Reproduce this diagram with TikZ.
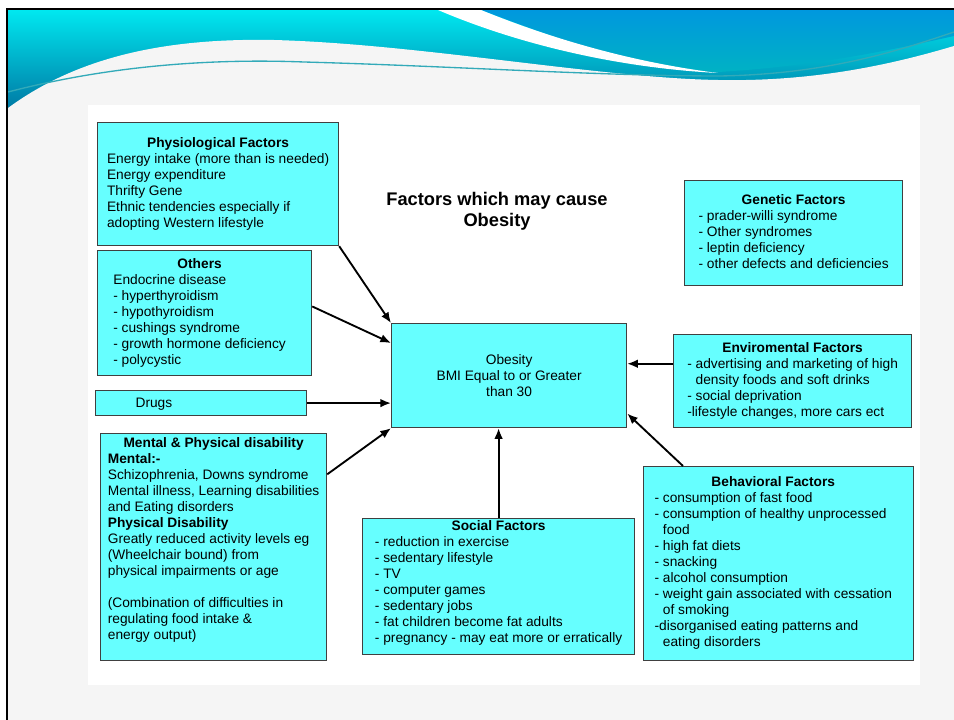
\documentclass[tikz,border=0pt]{standalone}
\usepackage{fontspec}
\setmainfont{Liberation Sans}
\usetikzlibrary{arrows.meta}

\definecolor{boxcyan}{RGB}{102,255,255}
\definecolor{bandcyan}{RGB}{0,232,240}
\definecolor{bandmid}{RGB}{0,210,232}
\definecolor{bandteal}{RGB}{0,118,162}
\definecolor{bandblue}{RGB}{0,152,222}
\definecolor{bandgreen}{RGB}{0,178,196}
\definecolor{waveline}{RGB}{50,170,185}
\definecolor{slidebg}{RGB}{245,245,245}

\newcommand{\factorlist}[3][0pt]{\begin{tabular}{@{}l@{\hspace{#1}}}\multicolumn{1}{@{}c@{\hspace{#1}}}{\bfseries #2}\\ #3\end{tabular}}

\begin{document}
\begin{tikzpicture}[x=0.75pt,y=-0.75pt,
  factor/.style={draw=black!75,line width=0.9pt,fill=boxcyan,anchor=north west,inner sep=0pt,font=\fontsize{10.3}{12}\selectfont},
  cause/.style={-{Latex[length=8pt,width=6.5pt]},line width=1.4pt}]

\useasboundingbox (0,0) rectangle (954,720);

% slide and banner
\fill[slidebg] (7,9) rectangle (954,720);
\begin{scope}
\clip (8,10) rectangle (954,720);
\shade[top color=bandcyan,middle color=bandmid,bottom color=bandteal] (8,10) rectangle (954,112);
\fill[slidebg] (8,112) -- (8,108) .. controls (80,55) and (170,38) .. (274,40) .. controls (420,44) and (600,78) .. (718,80) .. controls (820,82) and (900,62) .. (954,46) -- (954,112) -- cycle;
\shade[top color=bandblue,bottom color=bandgreen] (481,10) .. controls (560,40) and (640,68) .. (718,72) .. controls (820,66) and (900,48) .. (954,36) -- (954,10) -- cycle;
\fill[white] (438,10) .. controls (520,45) and (620,68) .. (718,73) .. controls (630,62) and (550,38) .. (481,10) -- cycle;
\draw[waveline,line width=1pt] (8,92) .. controls (100,68) and (200,58) .. (304,62) .. controls (450,66) and (600,76) .. (720,76) .. controls (830,74) and (900,50) .. (954,32);
\end{scope}
\draw[line width=1.6pt] (7,720) -- (7,9) -- (954,9);

\fill[white] (88,105) rectangle (920,685);

\node[font=\fontsize{13.7}{15.8}\selectfont\bfseries,align=center] (title) at (497,211) {Factors which may cause\\Obesity};

\node[factor,minimum width=176.25pt,minimum height=78pt,align=center] (obesity) at (391,323) {Obesity\\BMI Equal to or Greater\\than 30};

\node[factor,minimum width=180.75pt,minimum height=92.25pt] (phys) at (97,122) {\factorlist{Physiological Factors}{Energy intake (more than is needed)\\ Energy expenditure\\ Thrifty Gene\\ Ethnic tendencies especially if\\ adopting Western lifestyle}};

\node[factor,minimum width=160.5pt,minimum height=93.75pt] (others) at (97,250) {\factorlist[7.5pt]{Others}{Endocrine disease\\ - hyperthyroidism\\ - hypothyroidism\\ - cushings syndrome\\ - growth hormone deficiency\\ - polycystic}};

\node[factor,minimum height=18.75pt,text width=98.25pt,inner xsep=30pt,text depth=1pt,align=left] (drugs) at (95,390) {Drugs};

\node[factor,minimum width=169.5pt,minimum height=170.25pt] (mental) at (100,433) {\factorlist{Mental \& Physical disability}{\textbf{Mental:-}\\ Schizophrenia, Downs syndrome\\ Mental illness, Learning disabilities\\ and Eating disorders\\ \textbf{Physical Disability}\\ Greatly reduced activity levels eg\\ (Wheelchair bound) from\\ physical impairments or age\\ \\ (Combination of difficulties in\\ regulating food intake \&\\ energy output)\\[10.5pt]}};

\node[factor,minimum width=204pt,minimum height=102pt] (social) at (362,518) {\factorlist{Social Factors}{- reduction in exercise\\ - sedentary lifestyle\\ - TV\\ - computer games\\ - sedentary jobs\\ - fat children become fat adults\\ - pregnancy - may eat more or erratically\\[4.5pt]}};

\node[factor,minimum width=163.5pt,minimum height=78.75pt] (genetic) at (684,180) {\factorlist{Genetic Factors}{- prader-willi syndrome\\ - Other syndromes\\ - leptin deficiency\\ - other defects and deficiencies}};

\node[factor,minimum width=178.5pt,minimum height=69.75pt] (enviro) at (673,334) {\factorlist{Enviromental Factors}{- advertising and marketing of high\\ \phantom{- }density foods and soft drinks\\ - social deprivation\\ -lifestyle changes, more cars ect}};

\node[factor,minimum width=202.5pt,minimum height=145.5pt] (behav) at (643,466) {\factorlist[8pt]{Behavioral Factors}{- consumption of fast food\\ - consumption of healthy unprocessed\\ \phantom{- }food\\ - high fat diets\\ - snacking\\ - alcohol consumption\\ - weight gain associated with cessation\\ \phantom{- }of smoking\\ -disorganised eating patterns and\\ \phantom{- }eating disorders}};

\draw[cause] (phys.south east) -- (obesity.north west);
\draw[cause] ([yshift=5pt]others.east) -- ([yshift=-15pt]obesity.north west);
\draw[cause] (drugs.east) -- (drugs.east -| obesity.west);
\draw[cause] ([yshift=-31pt]mental.north east) -- (obesity.south west);
\draw[cause] (social.north) -- (social.north |- obesity.south);
\draw[cause] ([xshift=30pt]behav.north west) -- ([yshift=11pt]obesity.south east);
\draw[cause] ([yshift=13pt]enviro.west) -- ([yshift=13pt]enviro.west -| obesity.east);

\end{tikzpicture}
\end{document}
